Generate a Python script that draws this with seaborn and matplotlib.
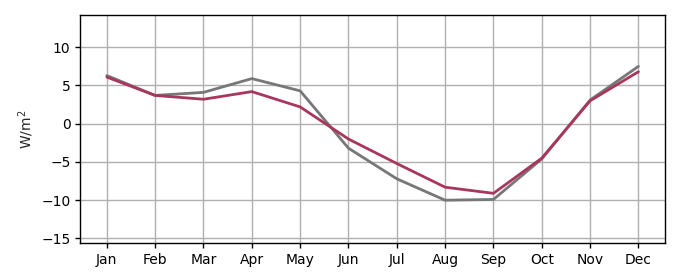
import matplotlib
matplotlib.use("Agg")
import matplotlib.pyplot as plt
import seaborn as sns
import pandas as pd

months = ["Jan", "Feb", "Mar", "Apr", "May", "Jun", "Jul", "Aug", "Sep", "Oct", "Nov", "Dec"]
gray_vals = [6.3, 3.7, 4.1, 5.9, 4.3, -3.2, -7.2, -10.0, -9.9, -4.6, 3.1, 7.5]
red_vals = [6.1, 3.7, 3.2, 4.2, 2.2, -2.0, -5.2, -8.3, -9.1, -4.5, 3.0, 6.8]

sns.set_style("ticks")
plt.rcParams['font.family'] = ['DejaVu Sans']

fig = plt.figure(figsize=(6.8, 2.8), dpi=100)
ax = fig.add_axes([0.118, 0.132, 0.860, 0.814])

df = pd.DataFrame({"month": months, "gray": gray_vals, "red": red_vals})
x = list(range(len(months)))
sns.lineplot(x=x, y=df["gray"], ax=ax, color="#777777", lw=2)
sns.lineplot(x=x, y=df["red"], ax=ax, color="#a8365e", lw=2)

ax.set_xticks(x)
ax.set_xticklabels(months)
ax.set_xlim(-0.55, 11.55)
ax.set_ylim(-15.6, 14.2)
ax.set_yticks([-15, -10, -5, 0, 5, 10])
ax.set_ylabel("W/m$^2$")
ax.grid(True, color="#b0b0b0", lw=1)
ax.set_axisbelow(True)
for s in ax.spines.values():
    s.set_visible(True)
    s.set_color("black")
    s.set_linewidth(1)
ax.tick_params(length=3.5, width=1, colors="black", labelsize=10)

fig.savefig("out.png", dpi=100)
